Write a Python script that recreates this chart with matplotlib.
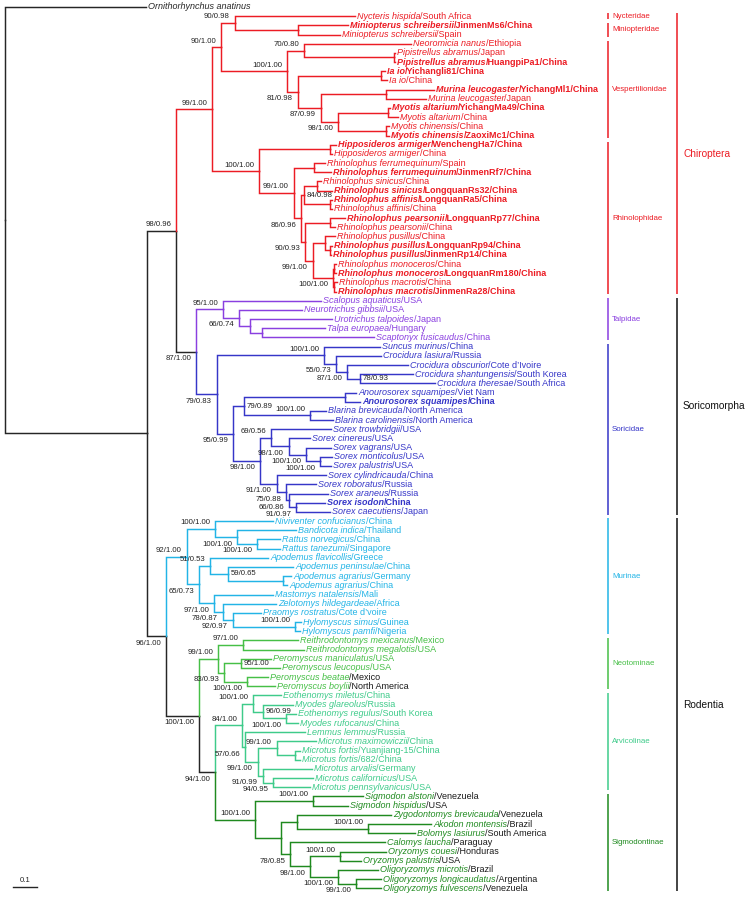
import matplotlib
matplotlib.use('Agg')
import matplotlib.pyplot as plt
from matplotlib.collections import LineCollection

plt.rcParams['font.family'] = ['Liberation Sans', 'DejaVu Sans']

# tips, top to bottom
species = [
    'Ornithorhynchus anatinus', 'Nycteris hispida', 'Miniopterus schreibersii', 'Miniopterus schreibersii',
    'Neoromicia nanus', 'Pipistrellus abramus', 'Pipistrellus abramus', 'Ia io', 'Ia io',
    'Murina leucogaster', 'Murina leucogaster', 'Myotis altarium', 'Myotis altarium',
    'Myotis chinensis', 'Myotis chinensis', 'Hipposideros armiger', 'Hipposideros armiger',
    'Rhinolophus ferrumequinum', 'Rhinolophus ferrumequinum', 'Rhinolophus sinicus', 'Rhinolophus sinicus',
    'Rhinolophus affinis', 'Rhinolophus affinis', 'Rhinolophus pearsonii', 'Rhinolophus pearsonii',
    'Rhinolophus pusillus', 'Rhinolophus pusillus', 'Rhinolophus pusillus', 'Rhinolophus monoceros',
    'Rhinolophus monoceros', 'Rhinolophus macrotis', 'Rhinolophus macrotis',
    'Scalopus aquaticus', 'Neurotrichus gibbsii', 'Urotrichus talpoides', 'Talpa europaea',
    'Scaptonyx fusicaudus', 'Suncus murinus', 'Crocidura lasiura', 'Crocidura obscurior',
    'Crocidura shantungensis', 'Crocidura theresae', 'Anourosorex squamipes', 'Anourosorex squamipes',
    'Blarina brevicauda', 'Blarina carolinensis', 'Sorex trowbridgii', 'Sorex cinereus', 'Sorex vagrans',
    'Sorex monticolus', 'Sorex palustris', 'Sorex cylindricauda', 'Sorex roboratus', 'Sorex araneus',
    'Sorex isodon', 'Sorex caecutiens',
    'Niviventer confucianus', 'Bandicota indica', 'Rattus norvegicus', 'Rattus tanezumi',
    'Apodemus flavicollis', 'Apodemus peninsulae', 'Apodemus agrarius', 'Apodemus agrarius',
    'Mastomys natalensis', 'Zelotomys hildegardeae', 'Praomys rostratus', 'Hylomyscus simus',
    'Hylomyscus pamfi', 'Reithrodontomys mexicanus', 'Reithrodontomys megalotis',
    'Peromyscus maniculatus', 'Peromyscus leucopus', 'Peromyscus beatae', 'Peromyscus boylii',
    'Eothenomys miletus', 'Myodes glareolus', 'Eothenomys regulus', 'Myodes rufocanus', 'Lemmus lemmus',
    'Microtus maximowiczii', 'Microtus fortis', 'Microtus fortis', 'Microtus arvalis',
    'Microtus californicus', 'Microtus pennsylvanicus', 'Sigmodon alstoni', 'Sigmodon hispidus',
    'Zygodontomys brevicauda', 'Akodon montensis', 'Bolomys lasiurus', 'Calomys laucha',
    'Oryzomys couesi', 'Oryzomys palustris', 'Oligoryzomys microtis', 'Oligoryzomys longicaudatus',
    'Oligoryzomys fulvescens']
places = [
    '', 'South Africa', 'JinmenMs6/China', 'Spain', 'Ethiopia', 'Japan', 'HuangpiPa1/China',
    'Yichangli81/China', 'China', 'YichangMl1/China', 'Japan', 'YichangMa49/China', 'China', 'China',
    'ZaoxiMc1/China', 'WenchengHa7/China', 'China', 'Spain', 'JinmenRf7/China', 'China',
    'LongquanRs32/China', 'LongquanRa5/China', 'China', 'LongquanRp77/China', 'China', 'China',
    'LongquanRp94/China', 'JinmenRp14/China', 'China', 'LongquanRm180/China', 'China', 'JinmenRa28/China',
    'USA', 'USA', 'Japan', 'Hungary', 'China', 'China', 'Russia', 'Cote d\u2019Ivoire', 'South Korea',
    'South Africa', 'Viet Nam', 'China', 'North America', 'North America', 'USA', 'USA', 'USA', 'USA',
    'USA', 'China', 'Russia', 'Russia', 'China', 'Japan',
    'China', 'Thailand', 'China', 'Singapore', 'Greece', 'China', 'Germany', 'China', 'Mali', 'Africa',
    'Cote d\u2019voire', 'Guinea', 'Nigeria', 'Mexico', 'USA', 'USA', 'USA', 'Mexico', 'North America',
    'China', 'Russia', 'South Korea', 'China', 'Russia', 'China', 'Yuanjiang-15/China', '682/China',
    'Germany', 'USA', 'USA', 'Venezuela', 'USA', 'Venezuela', 'Brazil', 'South America', 'Paraguay',
    'Honduras', 'USA', 'Brazil', 'Argentina', 'Venezuela']
tip_depth = [
    0.588, 1.458, 1.429, 1.396, 1.692, 1.625, 1.625, 1.583, 1.592, 1.788, 1.754, 1.604, 1.638, 1.600,
    1.600, 1.379, 1.363, 1.333, 1.358, 1.317, 1.363, 1.363, 1.363, 1.417, 1.375, 1.375, 1.363, 1.358,
    1.379, 1.379, 1.383, 1.379,
    1.317, 1.238, 1.363, 1.333, 1.538, 1.563, 1.567, 1.679, 1.700, 1.792, 1.463, 1.479, 1.338, 1.367,
    1.358, 1.271, 1.358, 1.363, 1.358, 1.338, 1.296, 1.346, 1.333, 1.354,
    1.117, 1.213, 1.146, 1.146, 1.096, 1.200, 1.192, 1.175, 1.117, 1.129, 1.067, 1.233, 1.229,
    1.221, 1.246, 1.108, 1.146, 1.096, 1.125,
    1.150, 1.200, 1.213, 1.221, 1.250, 1.296, 1.229, 1.229, 1.279, 1.283, 1.271,
    1.492, 1.429, 1.608, 1.775, 1.708, 1.583, 1.588, 1.483, 1.554, 1.567, 1.567]
bold_tips = [2, 6, 7, 9, 11, 14, 15, 18, 20, 21, 23, 26, 27, 29, 31, 43, 54]
black_place = [73, 74, 86, 87, 88, 89, 90, 91, 92, 93, 94, 95, 96]

# internal nodes: (first tip, last tip, depth, support, label side)
backbone_nodes = [
    (0, 96, 0.000, '', ''), (1, 96, 0.592, '', ''), (1, 55, 0.713, '98/0.96', 'a'),
    (32, 55, 0.796, '87/1.00', 'b'), (56, 96, 0.671, '96/1.00', 'b'),
    (69, 96, 0.808, '100/1.00', 'b'), (75, 96, 0.875, '94/1.00', 'b')]
chiroptera_nodes = [
    (1, 31, 0.863, '99/1.00', 'a'), (1, 14, 0.900, '90/1.00', 'a'), (1, 3, 0.958, '90/0.98', 'a'),
    (2, 3, 1.221, '', ''), (4, 14, 1.175, '100/1.00', 'a'), (4, 6, 1.246, '70/0.80', 'a'),
    (5, 6, 1.621, '', ''), (7, 14, 1.221, '81/0.98', 'b'), (7, 8, 1.567, '', ''),
    (9, 14, 1.317, '87/0.99', 'b'), (9, 10, 1.588, '', ''), (11, 14, 1.388, '98/1.00', 'b'),
    (11, 12, 1.596, '', ''), (13, 14, 1.588, '', ''),
    (15, 31, 1.058, '100/1.00', 'a'), (15, 16, 1.354, '', ''), (17, 31, 1.204, '99/1.00', 'a'),
    (17, 18, 1.288, '', ''), (19, 31, 1.233, '86/0.96', 'b'), (19, 22, 1.246, '84/0.98', 'r'),
    (19, 20, 1.300, '', ''), (21, 22, 1.354, '', ''), (23, 31, 1.250, '90/0.93', 'b'),
    (23, 24, 1.354, '', ''), (25, 31, 1.283, '99/1.00', 'b'), (25, 27, 1.333, '', ''),
    (26, 27, 1.354, '', ''), (28, 31, 1.367, '100/1.00', 'b'), (28, 29, 1.371, '', ''),
    (30, 31, 1.371, '', '')]
talpid_nodes = [
    (32, 36, 0.908, '95/1.00', 'a'), (33, 36, 0.975, '66/0.74', 'b'), (34, 36, 1.021, '', ''),
    (35, 36, 1.071, '', '')]
soricid_nodes = [
    (37, 55, 0.883, '79/0.83', 'b'), (37, 41, 1.329, '100/1.00', 'a'), (38, 41, 1.379, '55/0.73', 'b'),
    (39, 41, 1.425, '87/1.00', 'b'), (40, 41, 1.479, '78/0.93', 'r'), (42, 55, 0.950, '95/0.99', 'b'),
    (42, 45, 0.996, '79/0.89', 'r'), (42, 43, 1.417, '', ''), (44, 45, 1.271, '100/1.00', 'a'),
    (46, 55, 1.063, '98/1.00', 'b'), (46, 50, 1.108, '69/0.56', 'a'), (47, 50, 1.183, '98/1.00', 'b'),
    (48, 50, 1.254, '100/1.00', 'b'), (49, 50, 1.313, '100/1.00', 'b'), (51, 55, 1.133, '91/1.00', 'b'),
    (52, 55, 1.171, '75/0.88', 'b'), (53, 55, 1.183, '66/0.86', 'b'), (54, 55, 1.213, '91/0.97', 'b')]
murine_nodes = [
    (56, 68, 0.758, '92/1.00', 'a'), (56, 59, 0.875, '100/1.00', 'a'), (57, 59, 0.967, '100/1.00', 'b'),
    (58, 59, 1.050, '100/1.00', 'b'), (60, 68, 0.808, '65/0.73', 'b'), (60, 63, 0.854, '51/0.53', 'a'),
    (61, 63, 0.929, '59/0.65', 'r'), (62, 63, 1.158, '', ''), (64, 68, 0.871, '97/1.00', 'b'),
    (65, 68, 0.908, '78/0.87', 'b'), (66, 68, 0.950, '92/0.97', 'b'), (67, 68, 1.208, '100/1.00', 'a')]
neotomine_nodes = [
    (69, 74, 0.888, '99/1.00', 'a'), (69, 70, 0.992, '97/1.00', 'a'), (71, 74, 0.913, '83/0.93', 'b'),
    (71, 72, 0.983, '95/1.00', 'r'), (73, 74, 1.008, '100/1.00', 'b')]
arvicoline_nodes = [
    (75, 85, 0.988, '84/1.00', 'a'), (75, 78, 1.033, '100/1.00', 'a'), (76, 78, 1.075, '96/0.99', 'r'),
    (77, 78, 1.171, '100/1.00', 'b'), (79, 85, 1.000, '57/0.66', 'b'), (80, 85, 1.054, '99/1.00', 'b'),
    (80, 82, 1.133, '99/1.00', 'a'), (81, 82, 1.208, '', ''), (83, 85, 1.075, '91/0.99', 'b'),
    (84, 85, 1.117, '94/0.95', 'b')]
sigmodontine_nodes = [
    (86, 96, 1.042, '100/1.00', 'a'), (86, 87, 1.283, '100/1.00', 'a'), (88, 96, 1.150, '', ''),
    (88, 90, 1.217, '', ''), (89, 90, 1.513, '100/1.00', 'a'), (91, 96, 1.188, '78/0.85', 'b'),
    (92, 96, 1.271, '98/1.00', 'b'), (92, 93, 1.396, '100/1.00', 'a'), (94, 96, 1.388, '100/1.00', 'b'),
    (95, 96, 1.463, '99/1.00', 'b')]

families = ['Nycteridae', 'Miniopteridae', 'Vespertilionidae', 'Rhinolophidae', 'Talpidae',
            'Soricidae', 'Murinae', 'Neotominae', 'Arvicolinae', 'Sigmodontinae']
family_first = [1, 2, 4, 15, 32, 37, 56, 69, 75, 86]
family_last = [1, 3, 14, 31, 36, 55, 68, 74, 85, 96]
family_colors = ['#ec1c24', '#ec1c24', '#ec1c24', '#ec1c24', '#8a3fe0', '#3636c8',
                 '#22b4e6', '#46bf46', '#3ecb8a', '#1f8a1f']
orders = ['Chiroptera', 'Soricomorpha', 'Rodentia']
order_first = [1, 32, 56]
order_last = [31, 55, 96]
order_colors = ['#ec1c24', '#111111', '#111111']

DARK = '#262626'

all_nodes = (backbone_nodes + chiroptera_nodes + talpid_nodes + soricid_nodes + murine_nodes
             + neotomine_nodes + arvicoline_nodes + sigmodontine_nodes)
n_tips = len(species)

tip_colors = [DARK] * n_tips
for f, l, c in zip(family_first, family_last, family_colors):
    for i in range(f, l + 1):
        tip_colors[i] = c

# topology from the tip ranges
ranges = [(i, i) for i in range(n_tips)] + [(n[0], n[1]) for n in all_nodes]
depth = list(tip_depth) + [n[2] for n in all_nodes]
N = len(ranges)
size = [r[1] - r[0] for r in ranges]
parent = [None] * N
for k in range(N):
    best = None
    for j in range(n_tips, N):
        if j == k or size[j] <= size[k]:
            continue
        if ranges[j][0] <= ranges[k][0] and ranges[k][1] <= ranges[j][1]:
            if best is None or size[j] < size[best]:
                best = j
    parent[k] = best

ypos = [float(i) for i in range(n_tips)] + [None] * (N - n_tips)
colors = list(tip_colors) + [None] * (N - n_tips)
for k in sorted(range(n_tips, N), key=lambda k: size[k]):
    kids = sorted([c for c in range(N) if parent[c] == k], key=lambda c: ranges[c][0])
    ypos[k] = (ypos[kids[0]] + ypos[kids[-1]]) / 2
    cs = set(tip_colors[ranges[k][0]:ranges[k][1] + 1])
    colors[k] = cs.pop() if len(cs) == 1 else DARK

fig = plt.figure(figsize=(7.5, 8.97), dpi=100)
ax = fig.add_axes([0, 0, 1, 1])
ax.set_xlim(-0.0208, 3.104)
ax.set_ylim(96.95, -0.76)
ax.axis('off')

segs, seg_cols = [], []
for k in range(N):
    p = parent[k]
    if p is None:
        continue
    segs.append([(depth[p], ypos[p]), (depth[p], ypos[k]), (depth[k], ypos[k])])
    seg_cols.append(colors[k])
ax.add_collection(LineCollection(segs, colors=seg_cols, linewidths=1.05,
                                 capstyle='projecting', joinstyle='miter'))

# tip labels
for i in range(n_tips):
    w = 'bold' if i in bold_tips else 'normal'
    t = ax.annotate(species[i], (tip_depth[i], i), xytext=(1.4, 0), textcoords='offset points',
                    fontsize=6.45, style='italic', weight=w, color=tip_colors[i],
                    ha='left', va='center')
    if places[i]:
        pc = '#1a1a1a' if i in black_place else tip_colors[i]
        ax.annotate('/' + places[i], xy=(1, 0.5), xycoords=t, fontsize=6.45, weight=w,
                    color=pc, ha='left', va='center')

# support values
offs = {'a': (-3.6, 4.4, 'right'), 'b': (-3.6, -5.0, 'right'), 'r': (1.8, 0.0, 'left')}
for j, n in enumerate(all_nodes):
    if not n[3]:
        continue
    k = n_tips + j
    dx, dy, ha = offs[n[4]]
    ax.annotate(n[3], (depth[k], ypos[k]), xytext=(dx, dy), textcoords='offset points',
                fontsize=5.6, color='#222222', ha=ha, va='center')

# family and order brackets
for name, f, l, c in zip(families, family_first, family_last, family_colors):
    ax.plot([2.5125, 2.5125], [f - 0.3, l + 0.3], color=c, lw=1.1, solid_capstyle='butt')
    ax.text(2.529, (f + l) / 2, name, color=c, fontsize=5.7, ha='left', va='center')
for name, f, l, c in zip(orders, order_first, order_last, order_colors):
    ax.plot([2.8, 2.8], [f - 0.3, l + 0.3], color=c, lw=1.1, solid_capstyle='butt')
    ax.text(2.825, (f + l) / 2, name, color=c, fontsize=7.3, ha='left', va='center')

# scale bar
ax.plot([0.033, 0.133], [95.9, 95.9], color=DARK, lw=1.0)
ax.text(0.083, 95.1, '0.1', fontsize=5.6, color=DARK, ha='center', va='center')

fig.savefig('out.png', dpi=100)
